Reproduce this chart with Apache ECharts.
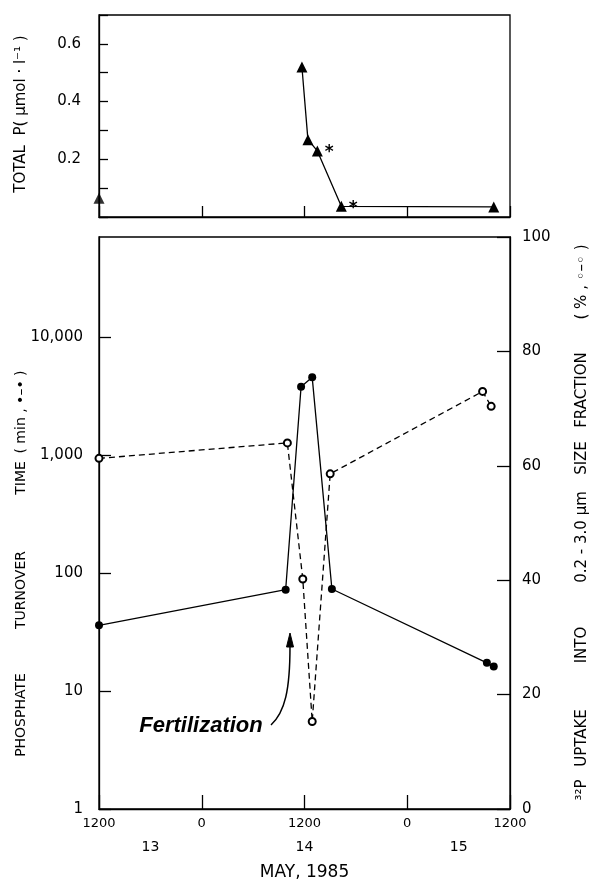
<!DOCTYPE html>
<html>
<head>
<meta charset="utf-8">
<script src="https://cdn.jsdelivr.net/npm/echarts@6/dist/echarts.min.js"></script>
<style>
html,body{margin:0;padding:0;background:#fff;}
#chart{width:589px;height:886px;}
</style>
</head>
<body>
<div id="chart"></div>
<script>
// ---- data (hours after 1200, 13 May 1985) ----
const topHours = [0, 23.7, 24.4, 25.5, 28.3, 46.1];
const totalP = [0.065, 0.52, 0.268, 0.229, 0.037, 0.035];
const starredPoints = [3, 4];

const turnHours = [0, 21.8, 23.6, 24.9, 27.2, 45.3, 46.1];
const turnoverMin = [36, 72, 3770, 4530, 73, 17.3, 16.1];

const uptakeHours = [0, 22.0, 23.8, 24.9, 27.0, 44.8, 45.8];
const uptakePct = [61.3, 64.0, 40.2, 15.3, 58.6, 73.0, 70.4];

const hourTickLabels = ['1200', '0', '1200', '0', '1200'];
const dayHours = [6, 24, 42];
const dayLabels = ['13', '14', '15'];
const topTickLabels = ['0.2', '0.4', '0.6'];

const FONT = 'DejaVu Sans';
const chart = echarts.init(document.getElementById('chart'), null, {renderer: 'canvas'});

const topLineData = topHours.slice(1).map((h, i) => {
  const idx = i + 1;
  const item = {value: [h, totalP[idx]]};
  if (starredPoints.includes(idx)) {
    item.label = {show: true, formatter: '*', position: 'right', distance: 2, offset: [0, 2],
      fontSize: 17, fontWeight: 'bold', color: '#000', fontFamily: FONT};
  }
  return item;
});
const topFirst = [[topHours[0], totalP[0]]];
const turnData = turnHours.map((h, i) => [h, turnoverMin[i]]);
const uptakeData = uptakeHours.map((h, i) => [h, uptakePct[i]]);

const axisLineStyle = {color: '#000', width: 1.3};
function rotText(text, x, y, size) {
  return {
    type: 'text', x: x, y: y, rotation: Math.PI / 2,
    style: {text: text, font: size + 'px "' + FONT + '"', fill: '#000',
      align: 'center', verticalAlign: 'middle', textAlign: 'center', textVerticalAlign: 'middle'}
  };
}

const option = {
  animation: false,
  backgroundColor: '#fff',
  textStyle: {fontFamily: FONT, color: '#000'},
  grid: [
    {left: 99, right: 79, top: 15, height: 202, show: true, borderColor: '#000', borderWidth: 1.3},
    {left: 99, right: 79, top: 237, height: 575, show: true, borderColor: '#000', borderWidth: 1.3}
  ],
  xAxis: [
    {gridIndex: 0, type: 'value', min: 0, max: 48, interval: 12,
      axisLine: {onZero: false, lineStyle: axisLineStyle},
      axisTick: {inside: true, length: 11, lineStyle: axisLineStyle},
      axisLabel: {show: false}, splitLine: {show: false}},
    {gridIndex: 1, type: 'value', min: 0, max: 48, interval: 12, position: 'bottom',
      axisLine: {onZero: false, lineStyle: axisLineStyle},
      axisTick: {inside: true, length: 14, lineStyle: axisLineStyle},
      axisLabel: {fontSize: 13, color: '#000', margin: 8,
        formatter: v => hourTickLabels[Math.round(v / 12)] || ''},
      splitLine: {show: false}},
    {gridIndex: 1, type: 'value', min: 0, max: 48, interval: 6, position: 'bottom',
      axisLine: {show: false, onZero: false}, axisTick: {show: false}, splitLine: {show: false},
      axisLabel: {fontSize: 14, color: '#000', margin: 31,
        formatter: v => { const k = dayHours.indexOf(Math.round(v)); return k >= 0 ? dayLabels[k] : ''; }},
      name: 'MAY, 1985', nameLocation: 'middle', nameGap: 55,
      nameTextStyle: {fontSize: 17, color: '#000', fontFamily: FONT}}
  ],
  yAxis: [
    {gridIndex: 0, type: 'value', min: 0, max: 0.7, interval: 0.1,
      axisLine: {show: true, onZero: false, lineStyle: axisLineStyle},
      axisTick: {show: true, inside: true, length: 9, lineStyle: axisLineStyle},
      axisLabel: {fontSize: 15, color: '#000', margin: 18,
        formatter: v => { const s = v.toFixed(1); return topTickLabels.includes(s) ? s : ''; }},
      splitLine: {show: false}},
    {gridIndex: 1, type: 'log', logBase: 10, min: 1, max: 70000, position: 'left',
      axisLine: {show: true, onZero: false, lineStyle: axisLineStyle},
      axisTick: {show: true, inside: true, length: 12, lineStyle: axisLineStyle},
      minorTick: {show: false},
      axisLabel: {fontSize: 15, color: '#000', margin: 16, showMaxLabel: false,
        formatter: v => { const r = Math.round(v); return r > 10000 ? '' : r.toLocaleString('en-US'); }},
      splitLine: {show: false}},
    {gridIndex: 1, type: 'value', min: 0, max: 100, interval: 20, position: 'right',
      axisLine: {show: true, onZero: false, lineStyle: axisLineStyle},
      axisTick: {show: true, inside: true, length: 13, lineStyle: axisLineStyle},
      axisLabel: {fontSize: 15, color: '#000', margin: 12},
      splitLine: {show: false}}
  ],
  series: [
    {name: 'Total P', type: 'line', xAxisIndex: 0, yAxisIndex: 0, data: topLineData,
      symbol: 'triangle', symbolSize: 11, clip: false,
      itemStyle: {color: '#000'}, lineStyle: {color: '#000', width: 1.3}},
    {name: 'Total P start', type: 'scatter', xAxisIndex: 0, yAxisIndex: 0, data: topFirst,
      symbol: 'triangle', symbolSize: 11, clip: false, itemStyle: {color: '#000'}},
    {name: 'Turnover time', type: 'line', xAxisIndex: 1, yAxisIndex: 1, data: turnData,
      symbol: 'circle', symbolSize: 8, clip: false,
      itemStyle: {color: '#000'}, lineStyle: {color: '#000', width: 1.3}},
    {name: 'Uptake fraction', type: 'line', xAxisIndex: 1, yAxisIndex: 2, data: uptakeData,
      symbol: 'emptyCircle', symbolSize: 7, clip: false, z: 3,
      itemStyle: {color: '#000', borderColor: '#000', borderWidth: 1.1},
      lineStyle: {color: '#000', width: 1.3, type: [6, 4]}}
  ],
  graphic: [
    rotText('TOTAL  P( μmol · l⁻¹ )', 21, 114, 15),
    rotText('PHOSPHATE', 21, 715, 14),
    rotText('TURNOVER', 21, 590, 14),
    rotText('TIME', 21, 478, 14),
    rotText('( min , •–• )', 21, 412, 14),
    rotText('³²P', 582, 790, 15),
    rotText('UPTAKE', 582, 738, 15),
    rotText('INTO', 582, 645, 15),
    rotText('0.2 - 3.0 μm', 582, 537, 15),
    rotText('SIZE', 582, 458, 15),
    rotText('FRACTION', 582, 390, 15),
    rotText('( % , ◦–◦ )', 582, 282, 15),
    {type: 'text', x: 201, y: 726,
      style: {text: 'Fertilization', font: 'italic bold 22px "Liberation Sans"', fill: '#000',
        align: 'center', verticalAlign: 'middle', textAlign: 'center', textVerticalAlign: 'middle'}},
    {type: 'bezierCurve', shape: {x1: 271, y1: 725, cpx1: 285, cpy1: 712, cpx2: 290, cpy2: 690, x2: 290, y2: 646},
      style: {stroke: '#000', lineWidth: 1.5, fill: null}},
    {type: 'polygon', shape: {points: [[290, 633], [286.5, 647], [293.5, 647]]},
      style: {fill: '#000', stroke: '#000'}}
  ]
};
chart.setOption(option);
</script>
</body>
</html>
